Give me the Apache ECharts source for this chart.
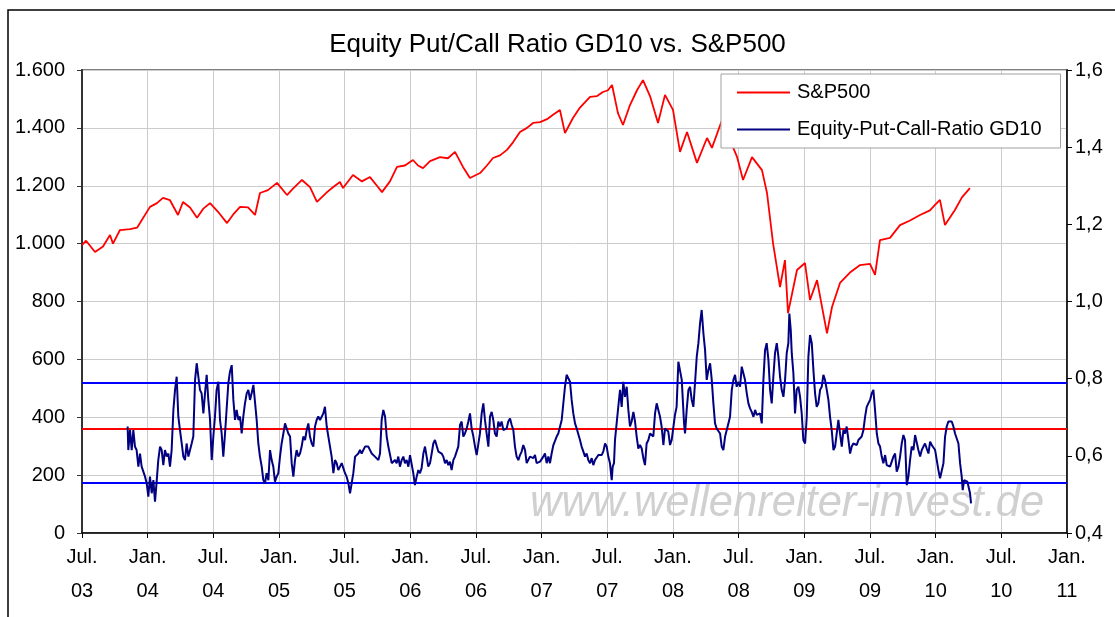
<!DOCTYPE html>
<html>
<head>
<meta charset="utf-8">
<title>Equity Put/Call Ratio GD10 vs. S&amp;P500</title>
<script src="https://cdn.jsdelivr.net/npm/echarts@6/dist/echarts.min.js"></script>
<style>
html, body { margin: 0; padding: 0; background: #fff; }
#chart { width: 1115px; height: 617px; }
</style>
</head>
<body>
<div id="chart"></div>
<script>
// x = months since Jul. 2003
var xTickLabels = ['Jul.\n03', 'Jan.\n04', 'Jul.\n04', 'Jan.\n05', 'Jul.\n05', 'Jan.\n06', 'Jul.\n06', 'Jan.\n07',
  'Jul.\n07', 'Jan.\n08', 'Jul.\n08', 'Jan.\n09', 'Jul.\n09', 'Jan.\n10', 'Jul.\n10', 'Jan.\n11'];

var spxT = [0, 0.37, 1.19, 1.92, 2.56, 2.83, 3.47, 4.39, 5.03, 5.30, 6.21, 6.85, 7.40, 8.04, 8.77, 9.23, 9.87, 10.51,
  11.06, 11.70, 12.43, 13.25, 13.80, 14.44, 15.17, 15.81, 16.26, 16.99, 17.82, 18.73, 19.28, 20.10, 20.83, 21.47,
  22.39, 22.93, 23.57, 23.85, 24.76, 25.58, 26.31, 26.95, 27.41, 28.14, 28.78, 29.51, 30.24, 30.70, 31.16, 31.80,
  32.71, 33.44, 34.08, 34.81, 35.45, 36.37, 37.00, 37.55, 38.19, 38.83, 39.38, 40.02, 40.66, 41.21, 41.85, 42.49,
  43.04, 43.67, 44.13, 44.86, 45.50, 46.42, 47.06, 47.60, 48.06, 48.43, 48.97, 49.43, 50.07, 50.71, 51.26, 51.90,
  52.63, 53.27, 54.00, 54.64, 55.28, 56.19, 57.11, 57.56, 58.48, 59.21, 59.85, 60.40, 61.22, 62.13, 62.59, 63.14,
  63.78, 64.23, 64.51, 65.33, 66.06, 66.52, 67.16, 68.07, 68.53, 69.26, 70.17, 71.09, 72.00, 72.46, 72.91, 73.83,
  74.74, 75.66, 76.57, 77.48, 77.94, 78.39, 78.85, 79.76, 80.40, 81.13];
var spxVal = [995, 1010, 971, 990, 1030, 1000, 1047, 1050, 1055, 1071, 1127, 1140, 1158, 1150, 1099, 1144, 1125, 1089,
  1120, 1140, 1110, 1071, 1100, 1127, 1125, 1099, 1175, 1185, 1210, 1168, 1190, 1220, 1195, 1144,
  1178, 1195, 1213, 1192, 1237, 1215, 1230, 1200, 1178, 1215, 1265, 1270, 1289, 1270, 1261, 1285,
  1299, 1295, 1317, 1265, 1227, 1244, 1270, 1296, 1305, 1324, 1350, 1386, 1400, 1417, 1420, 1430,
  1445, 1462, 1382, 1434, 1470, 1507, 1510, 1524, 1530, 1548, 1451, 1410, 1479, 1530, 1565, 1510,
  1417, 1514, 1462, 1317, 1386, 1279, 1365, 1331, 1427, 1358, 1300, 1220, 1299, 1254, 1175, 1002,
  850, 943, 760, 909, 933, 805, 874, 690, 781, 864, 900, 926, 930, 892, 1012, 1020,
  1064, 1080, 1099, 1115, 1134, 1151, 1064, 1116, 1160, 1192];

var pcrT = [4.17, 4.23, 4.39, 4.54, 4.69, 4.84, 4.99, 5.15, 5.30, 5.45, 5.60, 5.76, 5.91, 6.06, 6.21, 6.37, 6.52, 6.67,
  6.82, 6.97, 7.13, 7.28, 7.43, 7.58, 7.74, 7.89, 8.04, 8.19, 8.35, 8.50, 8.65, 8.80, 8.95, 9.11, 9.26, 9.41, 9.56,
  9.72, 9.87, 10.02, 10.17, 10.33, 10.48, 10.63, 10.78, 10.93, 11.09, 11.24, 11.39, 11.54, 11.70, 11.85, 12.00,
  12.15, 12.30, 12.46, 12.61, 12.76, 12.91, 13.07, 13.37, 13.52, 13.68, 13.83, 13.98, 14.13, 14.29, 14.44, 14.59,
  14.74, 14.89, 15.05, 15.20, 15.35, 15.50, 15.66, 15.81, 15.96, 16.11, 16.26, 16.42, 16.57, 16.72, 16.87, 17.03,
  17.18, 17.33, 17.48, 17.63, 17.79, 17.94, 18.09, 18.24, 18.40, 18.55, 18.70, 18.85, 19.01, 19.16, 19.31, 19.46,
  19.61, 19.77, 19.92, 20.07, 20.22, 20.38, 20.53, 20.68, 20.83, 20.99, 21.14, 21.29, 21.44, 21.59, 21.75, 21.90,
  22.05, 22.20, 22.36, 22.51, 22.66, 22.81, 22.97, 23.12, 23.27, 23.42, 23.73, 24.03, 24.18, 24.34, 24.49, 24.64,
  24.79, 24.95, 25.25, 25.40, 25.55, 25.86, 26.16, 26.47, 26.77, 27.08, 27.23, 27.38, 27.53, 27.69, 27.84, 27.99,
  28.30, 28.60, 28.75, 28.90, 29.05, 29.21, 29.36, 29.51, 29.66, 29.82, 29.97, 30.12, 30.27, 30.42, 30.58, 30.73,
  30.88, 31.03, 31.19, 31.34, 31.49, 31.64, 31.80, 31.95, 32.10, 32.25, 32.40, 32.56, 32.71, 32.86, 33.01, 33.17,
  33.32, 33.47, 33.62, 33.77, 33.93, 34.08, 34.23, 34.38, 34.54, 34.69, 34.84, 34.99, 35.15, 35.30, 35.45, 35.60,
  35.76, 35.91, 36.06, 36.21, 36.36, 36.52, 36.67, 36.82, 36.97, 37.13, 37.28, 37.43, 37.58, 37.73, 37.89, 38.04,
  38.19, 38.34, 38.50, 38.65, 38.80, 38.95, 39.11, 39.26, 39.41, 39.56, 39.71, 39.87, 40.02, 40.17, 40.32, 40.48,
  40.63, 40.78, 40.93, 41.09, 41.24, 41.39, 41.54, 41.69, 41.85, 42.00, 42.15, 42.30, 42.46, 42.61, 42.76, 42.91,
  43.07, 43.22, 43.37, 43.52, 43.67, 43.83, 43.98, 44.13, 44.28, 44.44, 44.59, 44.74, 44.89, 45.05, 45.20, 45.35,
  45.50, 45.65, 45.81, 45.96, 46.11, 46.26, 46.42, 46.57, 46.72, 46.87, 47.03, 47.18, 47.33, 47.48, 47.63, 47.79,
  47.94, 48.09, 48.24, 48.40, 48.49, 48.61, 48.70, 48.85, 49.00, 49.16, 49.31, 49.46, 49.61, 49.77, 49.92, 50.07,
  50.22, 50.38, 50.53, 50.68, 50.83, 50.98, 51.14, 51.29, 51.44, 51.59, 51.75, 51.90, 52.05, 52.20, 52.36, 52.51,
  52.66, 52.81, 52.96, 53.12, 53.27, 53.42, 53.57, 53.73, 53.88, 54.03, 54.18, 54.33, 54.49, 54.64, 54.80, 54.95,
  55.01, 55.10, 55.25, 55.41, 55.56, 55.71, 55.86, 56.01, 56.17, 56.32, 56.47, 56.62, 56.78, 56.93, 57.08, 57.23,
  57.39, 57.54, 57.69, 57.84, 57.99, 58.15, 58.30, 58.45, 58.60, 58.76, 58.91, 59.06, 59.21, 59.37, 59.52, 59.67,
  59.82, 59.97, 60.13, 60.28, 60.43, 60.58, 60.74, 60.89, 61.04, 61.19, 61.35, 61.50, 61.65, 61.80, 61.95, 62.11,
  62.26, 62.41, 62.56, 62.72, 62.87, 63.02, 63.17, 63.32, 63.48, 63.63, 63.78, 63.93, 64.09, 64.24, 64.39, 64.54,
  64.63, 64.76, 64.85, 65.00, 65.15, 65.30, 65.46, 65.61, 65.76, 65.91, 66.07, 66.22, 66.37, 66.52, 66.68, 66.83,
  66.98, 67.13, 67.28, 67.44, 67.59, 67.74, 67.89, 68.05, 68.20, 68.35, 68.50, 68.66, 68.81, 68.96, 69.11, 69.26,
  69.42, 69.57, 69.72, 69.87, 70.03, 70.18, 70.33, 70.48, 70.64, 70.79, 70.94, 71.09, 71.24, 71.40, 71.55, 71.70,
  71.85, 72.01, 72.16, 72.31, 72.46, 72.62, 72.77, 72.92, 73.07, 73.22, 73.38, 73.53, 73.68, 73.83, 73.99, 74.14,
  74.29, 74.44, 74.60, 74.75, 74.90, 75.05, 75.20, 75.36, 75.51, 75.66, 75.81, 75.97, 76.12, 76.27, 76.42, 76.58,
  76.73, 76.88, 77.03, 77.18, 77.34, 77.49, 77.64, 77.79, 77.95, 78.10, 78.25, 78.40, 78.56, 78.71, 78.86, 79.01,
  79.16, 79.32, 79.47, 79.62, 79.77, 79.93, 80.08, 80.23, 80.38, 80.47, 80.60, 80.75, 80.90, 81.05, 81.14, 81.23];
var pcrVal = [0.676, 0.615, 0.667, 0.615, 0.667, 0.624, 0.615, 0.572, 0.606, 0.572, 0.568, 0.546, 0.529, 0.494, 0.546, 0.503, 0.537, 0.481,
  0.533, 0.589, 0.624, 0.615, 0.576, 0.615, 0.598, 0.606, 0.572, 0.615, 0.719, 0.771, 0.805, 0.702, 0.667, 0.632, 0.598, 0.589, 0.632,
  0.598, 0.615, 0.632, 0.650, 0.797, 0.840, 0.840, 0.771, 0.762, 0.710, 0.762, 0.810, 0.745, 0.693, 0.589, 0.650,
  0.702, 0.771, 0.792, 0.693, 0.658, 0.598, 0.658, 0.788, 0.818, 0.835, 0.745, 0.693, 0.719, 0.693, 0.702, 0.658,
  0.702, 0.736, 0.762, 0.771, 0.745, 0.762, 0.784, 0.779, 0.693, 0.632, 0.598, 0.572, 0.537, 0.529, 0.555, 0.537,
  0.615, 0.589, 0.572, 0.533, 0.546, 0.555, 0.598, 0.632, 0.658, 0.684, 0.680, 0.658, 0.650, 0.581, 0.546, 0.589,
  0.615, 0.598, 0.606, 0.624, 0.650, 0.641, 0.667, 0.684, 0.650, 0.632, 0.624, 0.676, 0.693, 0.702, 0.693, 0.689,
  0.710, 0.727, 0.676, 0.650, 0.624, 0.598, 0.555, 0.589, 0.581, 0.563, 0.581, 0.555, 0.546, 0.529, 0.503, 0.529,
  0.555, 0.598, 0.606, 0.615, 0.606, 0.624, 0.624, 0.606, 0.598, 0.589, 0.606, 0.693, 0.719, 0.702, 0.650, 0.624,
  0.581, 0.589, 0.581, 0.598, 0.572, 0.589, 0.598, 0.581, 0.589, 0.572, 0.602, 0.598, 0.555, 0.524, 0.546, 0.563,
  0.555, 0.568, 0.606, 0.624, 0.628, 0.572, 0.581, 0.606, 0.632, 0.641, 0.637, 0.611, 0.615, 0.606, 0.598, 0.581,
  0.589, 0.576, 0.585, 0.563, 0.589, 0.598, 0.602, 0.624, 0.680, 0.689, 0.650, 0.658, 0.671, 0.689, 0.710, 0.671,
  0.650, 0.624, 0.602, 0.606, 0.658, 0.710, 0.736, 0.693, 0.658, 0.624, 0.702, 0.714, 0.693, 0.658, 0.650, 0.689,
  0.676, 0.689, 0.667, 0.663, 0.671, 0.689, 0.697, 0.680, 0.667, 0.624, 0.598, 0.589, 0.602, 0.611, 0.628, 0.615,
  0.581, 0.576, 0.598, 0.602, 0.594, 0.602, 0.581, 0.576, 0.585, 0.581, 0.598, 0.606, 0.581, 0.598, 0.581, 0.606,
  0.628, 0.624, 0.650, 0.658, 0.663, 0.693, 0.736, 0.779, 0.810, 0.814, 0.792, 0.745, 0.710, 0.684, 0.671, 0.671,
  0.641, 0.624, 0.611, 0.598, 0.606, 0.589, 0.581, 0.594, 0.576, 0.589, 0.594, 0.602, 0.606, 0.602, 0.611, 0.632,
  0.624, 0.598, 0.581, 0.537, 0.572, 0.581, 0.641, 0.684, 0.727, 0.771, 0.727, 0.792, 0.753, 0.779, 0.719, 0.676,
  0.689, 0.714, 0.689, 0.650, 0.619, 0.628, 0.619, 0.594, 0.576, 0.632, 0.641, 0.658, 0.663, 0.650, 0.710, 0.736,
  0.719, 0.702, 0.676, 0.628, 0.671, 0.676, 0.663, 0.628, 0.641, 0.641, 0.706, 0.727, 0.844, 0.844, 0.797, 0.797,
  0.684, 0.658, 0.719, 0.771, 0.779, 0.745, 0.727, 0.788, 0.857, 0.892, 0.943, 0.978, 0.917, 0.874, 0.797, 0.822,
  0.840, 0.797, 0.736, 0.684, 0.671, 0.667, 0.658, 0.624, 0.615, 0.650, 0.654, 0.684, 0.701, 0.771, 0.797, 0.810,
  0.779, 0.792, 0.779, 0.831, 0.831, 0.797, 0.762, 0.736, 0.723, 0.714, 0.701, 0.719, 0.706, 0.701, 0.710, 0.684,
  0.797, 0.874, 0.892, 0.848, 0.771, 0.736, 0.805, 0.866, 0.892, 0.857, 0.805, 0.771, 0.753, 0.797, 0.866, 0.892,
  0.969, 0.926, 0.866, 0.814, 0.710, 0.771, 0.779, 0.753, 0.710, 0.641, 0.632, 0.701, 0.857, 0.913, 0.892, 0.822,
  0.762, 0.727, 0.736, 0.771, 0.779, 0.810, 0.797, 0.771, 0.745, 0.701, 0.667, 0.615, 0.624, 0.658, 0.693, 0.658,
  0.624, 0.667, 0.658, 0.676, 0.641, 0.606, 0.624, 0.632, 0.637, 0.628, 0.641, 0.637, 0.650, 0.667, 0.701, 0.727,
  0.736, 0.745, 0.762, 0.771, 0.719, 0.658, 0.632, 0.624, 0.598, 0.581, 0.602, 0.576, 0.581, 0.572, 0.572, 0.598,
  0.606, 0.559, 0.572, 0.598, 0.632, 0.654, 0.641, 0.524, 0.546, 0.589, 0.624, 0.615, 0.654, 0.650, 0.615, 0.598,
  0.615, 0.624, 0.632, 0.619, 0.606, 0.637, 0.628, 0.624, 0.615, 0.589, 0.563, 0.542, 0.537, 0.581, 0.650, 0.676,
  0.689, 0.689, 0.689, 0.676, 0.658, 0.658, 0.632, 0.581, 0.546, 0.511, 0.537, 0.542, 0.533, 0.529, 0.503, 0.477];

// horizontal guide lines (right axis)
var upperBand = 0.79;
var midLine = 0.665;
var lowerBand = 0.525;

var font = '"Liberation Sans", Arial, sans-serif';

function pairs(t, v) {
  var out = [];
  for (var i = 0; i < t.length; i++) out.push([t[i], v[i]]);
  return out;
}

var myChart = echarts.init(document.getElementById('chart'));

myChart.setOption({
  animation: false,
  backgroundColor: '#fff',
  textStyle: { fontFamily: font },
  title: {
    text: 'Equity Put/Call Ratio GD10 vs. S&P500',
    left: 'center',
    top: 27,
    textStyle: { fontFamily: font, fontSize: 26, fontWeight: 'normal', color: '#000' }
  },
  legend: {
    orient: 'vertical',
    left: 721,
    top: 74,
    padding: [7, 19, 7, 16],
    itemGap: 14,
    itemWidth: 53,
    itemHeight: 2,
    icon: 'rect',
    backgroundColor: '#fff',
    borderColor: '#a0a0a0',
    borderWidth: 1,
    textStyle: { fontFamily: font, fontSize: 20, color: '#000', lineHeight: 23, padding: [0, 0, 0, 2] },
    data: ['S&P500', 'Equity-Put-Call-Ratio GD10']
  },
  graphic: [
    {
      type: 'rect',
      shape: { x: 8, y: 10, width: 1130, height: 630 },
      style: { fill: null, stroke: '#000', lineWidth: 1.5 },
      silent: true
    },
    {
      type: 'text',
      left: 530,
      top: 482,
      z: 0,
      style: {
        text: 'www.wellenreiter-invest.de',
        fill: '#d0d0d0',
        font: 'italic 43.5px ' + font
      },
      silent: true
    }
  ],
  grid: {
    left: 82,
    right: 48,
    top: 70,
    bottom: 84,
    show: true,
    borderColor: '#808080',
    borderWidth: 2
  },
  xAxis: {
    type: 'value',
    min: 0,
    max: 90,
    interval: 6,
    axisLine: { lineStyle: { color: '#000', width: 1.5 } },
    axisTick: { show: true, length: 5, lineStyle: { color: '#000' } },
    splitLine: { show: true, lineStyle: { color: '#cccccc', width: 1 } },
    axisLabel: {
      margin: 7,
      fontFamily: font,
      fontSize: 20,
      color: '#000',
      lineHeight: 34,
      formatter: function (v) { return xTickLabels[Math.round(v / 6)]; }
    }
  },
  yAxis: [
    {
      type: 'value',
      min: 0,
      max: 1600,
      interval: 200,
      axisLine: { show: true, lineStyle: { color: '#333', width: 2 } },
      axisTick: { show: true, length: 5, lineStyle: { color: '#333' } },
      splitLine: { show: true, lineStyle: { color: '#cccccc', width: 1 } },
      axisLabel: {
        margin: 17,
        fontFamily: font,
        fontSize: 20,
        color: '#000',
        formatter: function (v) { return String(v).replace(/\B(?=(\d{3})+(?!\d))/g, '.'); }
      }
    },
    {
      type: 'value',
      min: 0.4,
      max: 1.6,
      interval: 0.2,
      position: 'right',
      axisLine: { show: true, lineStyle: { color: '#000', width: 1.5 } },
      axisTick: { show: true, length: 5, lineStyle: { color: '#000' } },
      splitLine: { show: false },
      axisLabel: {
        margin: 8,
        fontFamily: font,
        fontSize: 20,
        color: '#000',
        formatter: function (v) { return v.toFixed(1).replace('.', ','); }
      }
    }
  ],
  series: [
    {
      name: 'S&P500',
      type: 'line',
      yAxisIndex: 0,
      symbol: 'none',
      z: 3,
      lineStyle: { color: '#ff0000', width: 1.8 },
      itemStyle: { color: '#ff0000' },
      data: pairs(spxT, spxVal)
    },
    {
      name: 'Equity-Put-Call-Ratio GD10',
      type: 'line',
      yAxisIndex: 1,
      symbol: 'none',
      z: 4,
      lineStyle: { color: '#000080', width: 2 },
      itemStyle: { color: '#000080' },
      data: pairs(pcrT, pcrVal),
      markLine: {
        silent: true,
        symbol: 'none',
        label: { show: false },
        z: 2,
        data: [
          { yAxis: upperBand, lineStyle: { color: '#0000ff', width: 2, type: 'solid' } },
          { yAxis: midLine, lineStyle: { color: '#ff0000', width: 2, type: 'solid' } },
          { yAxis: lowerBand, lineStyle: { color: '#0000ff', width: 2, type: 'solid' } }
        ]
      }
    }
  ]
});
</script>
</body>
</html>
